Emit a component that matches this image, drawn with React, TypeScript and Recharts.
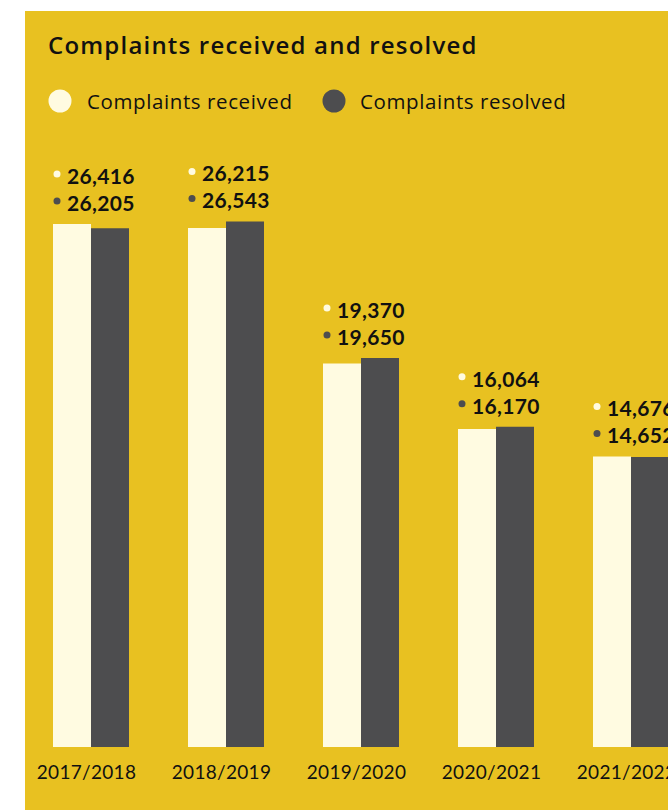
import React from 'react';
import { BarChart, Bar, XAxis, YAxis, LabelList } from 'recharts';

const categories = ['2017/2018', '2018/2019', '2019/2020', '2020/2021', '2021/2022'];
const received = [26416, 26215, 19370, 16064, 14676];
const resolved = [26205, 26543, 19650, 16170, 14652];
const seriesNames = ['Complaints received', 'Complaints resolved'];
const title = 'Complaints received and resolved';

const YELLOW = '#E8C121';
const CREAM = '#FFFBE1';
const DARK = '#4D4D4F';
const INK = '#111111';
const FONT = '"Open Sans", Lato, sans-serif';
const NUMFONT = 'Lato, "Open Sans", sans-serif';

const data = categories.map((c, i) => ({ name: c, received: received[i], resolved: resolved[i] }));

const fmt = (v: number) => v.toLocaleString('en-US');

const PairLabel = (props: any) => {
  const { x, y, width, height, index, value } = props;
  const baseline = y + height;
  const recvTop = baseline - (received[index] * height) / value;
  const top = Math.min(y, recvTop);
  const left = x - width;
  return (
    <g>
      <circle cx={left + 4} cy={top - 50} r={3.5} fill={CREAM} />
      <text x={left + 14} y={top - 40} fontSize={21} fontWeight={700} fill={INK} fontFamily={NUMFONT} letterSpacing={0.3}>
        {fmt(received[index])}
      </text>
      <circle cx={left + 4} cy={top - 23} r={3.5} fill={DARK} />
      <text x={left + 14} y={top - 13} fontSize={21} fontWeight={700} fill={INK} fontFamily={NUMFONT} letterSpacing={0.3}>
        {fmt(resolved[index])}
      </text>
    </g>
  );
};

const Tick = (props: any) => {
  const { x, y, payload } = props;
  return (
    <text x={x - 4} y={y} dy={24} textAnchor="middle" fontSize={19} fill={INK} fontFamily={NUMFONT} letterSpacing={0.3}>
      {payload.value}
    </text>
  );
};

export default function App() {
  return (
    <div style={{ position: 'absolute', left: 0, top: 0, width: 668, height: 810, overflow: 'hidden', background: '#fff' }}>
      <div style={{ position: 'absolute', left: 25, top: 11, width: 700, height: 820, background: YELLOW }} />
      <svg style={{ position: 'absolute', left: 0, top: 0 }} width={668} height={130}>
        <text x={48} y={54} fontSize={24} fontWeight={600} fill={INK} fontFamily={FONT} letterSpacing={1.2}>{title}</text>
        <circle cx={60} cy={101} r={11.5} fill={CREAM} />
        <text x={87} y={109} fontSize={20.5} fill={INK} fontFamily={FONT} letterSpacing={0.6}>{seriesNames[0]}</text>
        <circle cx={334} cy={101} r={11.5} fill={DARK} />
        <text x={360} y={109} fontSize={20.5} fill={INK} fontFamily={FONT} letterSpacing={0.6}>{seriesNames[1]}</text>
      </svg>
      <div style={{ position: 'absolute', left: 0, top: 0 }}>
        <BarChart
          width={700}
          height={810}
          data={data}
          margin={{ top: 153, right: 2, bottom: 23, left: 23 }}
          barGap={0}
          barSize={38}
        >
          <XAxis dataKey="name" axisLine={false} tickLine={false} tick={<Tick />} height={40} interval={0} />
          <YAxis hide domain={[0, 30000]} />
          <Bar dataKey="received" fill={CREAM} isAnimationActive={false} />
          <Bar dataKey="resolved" fill={DARK} isAnimationActive={false}>
            <LabelList dataKey="resolved" content={<PairLabel />} />
          </Bar>
        </BarChart>
      </div>
    </div>
  );
}
